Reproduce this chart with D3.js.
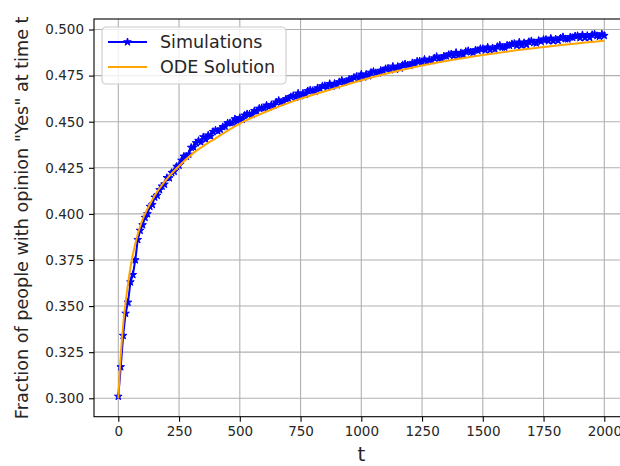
<!DOCTYPE html>
<html>
<head>
<meta charset="utf-8">
<script src="https://cdnjs.cloudflare.com/ajax/libs/d3/7.8.5/d3.min.js"></script>
<style>
  body { margin: 0; background: #fff; }
  svg { font-family: "DejaVu Sans", sans-serif; }
</style>
</head>
<body>
<script>
// simulation, sampled every 10 steps from t = 0 to 2000
var simStep = 10;
var simValues = [
  0.301, 0.317, 0.334, 0.346, 0.352, 0.363, 0.367, 0.375, 0.386, 0.391,
  0.394, 0.398, 0.400, 0.404, 0.405, 0.409, 0.410, 0.413, 0.415, 0.416,
  0.4196, 0.4195, 0.4224, 0.4230, 0.4257, 0.4263, 0.4290, 0.4312, 0.4312, 0.4323,
  0.4360, 0.4361, 0.4385, 0.4397, 0.4389, 0.4417, 0.4404, 0.4427, 0.4421, 0.4446,
  0.4454, 0.4449, 0.4457, 0.4472, 0.4474, 0.4493, 0.4494, 0.4494, 0.4515, 0.4502,
  0.4521, 0.4512, 0.4535, 0.4542, 0.4540, 0.4539, 0.4559, 0.4556, 0.4572, 0.4575,
  0.4573, 0.4589, 0.4580, 0.4592, 0.4589, 0.4606, 0.4615, 0.4606, 0.4610, 0.4623,
  0.4625, 0.4635, 0.4641, 0.4632, 0.4654, 0.4640, 0.4654, 0.4647, 0.4667, 0.4672,
  0.4668, 0.4665, 0.4683, 0.4679, 0.4694, 0.4695, 0.4688, 0.4706, 0.4692, 0.4707,
  0.4699, 0.4716, 0.4724, 0.4715, 0.4717, 0.4730, 0.4730, 0.4740, 0.4745, 0.4736,
  0.4757, 0.4742, 0.4757, 0.4748, 0.4767, 0.4772, 0.4765, 0.4764, 0.4778, 0.4777,
  0.4787, 0.4790, 0.4781, 0.4800, 0.4784, 0.4799, 0.4790, 0.4808, 0.4813, 0.4806,
  0.4804, 0.4819, 0.4816, 0.4828, 0.4828, 0.4822, 0.4838, 0.4825, 0.4836, 0.4830,
  0.4845, 0.4853, 0.4843, 0.4843, 0.4856, 0.4855, 0.4864, 0.4867, 0.4857, 0.4875,
  0.4859, 0.4873, 0.4863, 0.4881, 0.4885, 0.4878, 0.4875, 0.4889, 0.4886, 0.4896,
  0.4896, 0.4888, 0.4904, 0.4889, 0.4900, 0.4893, 0.4907, 0.4914, 0.4904, 0.4903,
  0.4915, 0.4913, 0.4922, 0.4924, 0.4913, 0.4931, 0.4914, 0.4928, 0.4917, 0.4934,
  0.4938, 0.4929, 0.4926, 0.4940, 0.4935, 0.4946, 0.4946, 0.4938, 0.4952, 0.4938,
  0.4948, 0.4940, 0.4954, 0.4960, 0.4949, 0.4948, 0.4959, 0.4956, 0.4965, 0.4966,
  0.4955, 0.4971, 0.4955, 0.4967, 0.4956, 0.4972, 0.4975, 0.4966, 0.4962, 0.4975,
  0.4967
];

// ODE solution, read at these times
var odeT = [0, 5, 10, 15, 20, 30, 40, 50, 60, 80, 100, 125, 150, 200, 250, 300,
            400, 500, 600, 750, 900, 1000, 1250, 1500, 1750, 2000];
var odeY = [0.300, 0.313, 0.323, 0.332, 0.340, 0.352, 0.362, 0.371, 0.378, 0.389,
            0.397, 0.404, 0.410, 0.419, 0.426, 0.432, 0.441, 0.449, 0.455, 0.4625,
            0.4685, 0.4725, 0.4805, 0.4862, 0.4905, 0.4939];

var xTicks = [0, 250, 500, 750, 1000, 1250, 1500, 1750, 2000];
var yTicks = [0.300, 0.325, 0.350, 0.375, 0.400, 0.425, 0.450, 0.475, 0.500];
var seriesNames = ["Simulations", "ODE Solution"];
var seriesColors = ["#0000ff", "#ffa500"];

var W = 620, H = 466;
var pLeft = 94, pTop = 19, pRight = 628.6, pBottom = 416.7;

var sim = simValues.map(function(v, i){ return {t: i * simStep, v: v}; });
var ode = odeT.map(function(t, i){ return {t: t, v: odeY[i]}; });

var x = d3.scaleLinear().domain([-100, 2100]).range([pLeft, pRight]);
var y = d3.scaleLinear().domain([0.2900, 0.5057]).range([pBottom, pTop]);

var svg = d3.select("body").append("svg")
    .attr("width", W).attr("height", H);

svg.append("defs").append("clipPath").attr("id", "clip")
  .append("rect").attr("x", pLeft).attr("y", pTop)
  .attr("width", pRight - pLeft).attr("height", pBottom - pTop);

// grid
var grid = svg.append("g").attr("stroke", "#b0b0b0").attr("stroke-width", 1.1);
grid.selectAll(".gx").data(xTicks).enter().append("line")
    .attr("x1", function(d){ return x(d); }).attr("x2", function(d){ return x(d); })
    .attr("y1", pTop).attr("y2", pBottom);
grid.selectAll(".gy").data(yTicks).enter().append("line")
    .attr("y1", function(d){ return y(d); }).attr("y2", function(d){ return y(d); })
    .attr("x1", pLeft).attr("x2", pRight);

var plot = svg.append("g").attr("clip-path", "url(#clip)");

var line = d3.line()
    .x(function(d){ return x(d.t); })
    .y(function(d){ return y(d.v); });

plot.append("path").datum(sim)
    .attr("fill", "none").attr("stroke", seriesColors[0]).attr("stroke-width", 2)
    .attr("d", line);

var star = d3.symbol().type(d3.symbolStar).size(18);
plot.selectAll(".mk").data(sim).enter().append("path")
    .attr("transform", function(d){ return "translate(" + x(d.t) + "," + y(d.v) + ")"; })
    .attr("d", star)
    .attr("fill", seriesColors[0]).attr("stroke", seriesColors[0]).attr("stroke-width", 1);

plot.append("path").datum(ode)
    .attr("fill", "none").attr("stroke", seriesColors[1]).attr("stroke-width", 2)
    .attr("d", line.curve(d3.curveMonotoneX));

// axes
var xAxis = d3.axisBottom(x).tickValues(xTicks).tickSize(5).tickPadding(5)
    .tickFormat(d3.format("d"));
var yAxis = d3.axisLeft(y).tickValues(yTicks).tickSize(5).tickPadding(5)
    .tickFormat(d3.format(".3f"));

var gx = svg.append("g").attr("transform", "translate(0," + pBottom + ")").call(xAxis);
var gy = svg.append("g").attr("transform", "translate(" + pLeft + ",0)").call(yAxis);
[gx, gy].forEach(function(g){
  g.select(".domain").remove();
  g.selectAll(".tick line").attr("stroke", "#000").attr("stroke-width", 1.1);
  g.selectAll(".tick text").attr("fill", "#262626")
    .style("font-family", "DejaVu Sans").style("font-size", "13.5px");
});

svg.append("rect").attr("x", pLeft).attr("y", pTop)
    .attr("width", pRight - pLeft).attr("height", pBottom - pTop)
    .attr("fill", "none").attr("stroke", "#000").attr("stroke-width", 1.1);

svg.append("text").attr("x", x(1000)).attr("y", 461)
    .attr("text-anchor", "middle").attr("fill", "#262626")
    .style("font-size", "20px").text("t");

svg.append("text")
    .attr("transform", "translate(28," + ((pTop + pBottom) / 2) + ") rotate(-90)")
    .attr("text-anchor", "middle").attr("fill", "#262626")
    .style("font-size", "17.6px")
    .text('Fraction of people with opinion "Yes" at time t');

// legend
var lg = svg.append("g").attr("transform", "translate(102,27)");
lg.append("rect").attr("width", 184).attr("height", 57).attr("rx", 4)
    .attr("fill", "#fff").attr("fill-opacity", 0.8)
    .attr("stroke", "#cccccc").attr("stroke-width", 1.1);
seriesNames.forEach(function(name, i){
  var yy = 15 + i * 25;
  lg.append("line").attr("x1", 6).attr("x2", 45).attr("y1", yy).attr("y2", yy)
    .attr("stroke", seriesColors[i]).attr("stroke-width", 2);
  if (i === 0) {
    lg.append("path").attr("transform", "translate(25.5," + yy + ")")
      .attr("d", star).attr("fill", seriesColors[0])
      .attr("stroke", seriesColors[0]).attr("stroke-width", 1);
  }
  lg.append("text").attr("x", 58).attr("y", yy + 6).attr("fill", "#262626")
    .style("font-size", "17.5px").text(name);
});
</script>
</body>
</html>
